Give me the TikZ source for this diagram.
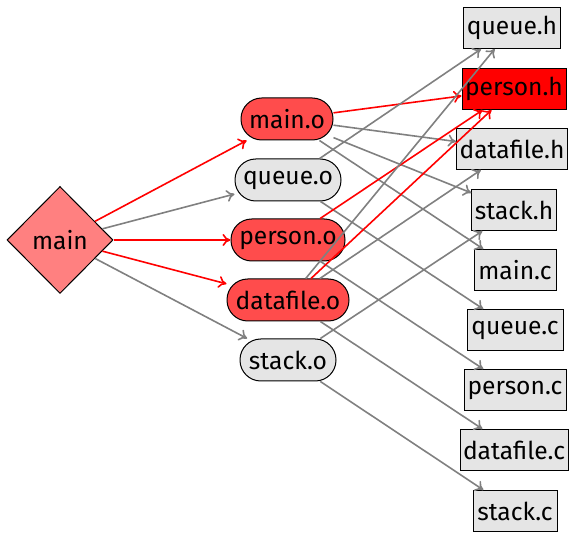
\documentclass[tikz,border=0pt]{standalone}
\usepackage{fontspec}
\setmainfont{Fira Sans}
\usetikzlibrary{shapes.geometric,arrows.meta}
\begin{document}
\begin{tikzpicture}[x=0.5pt,y=-0.5pt,
  every node/.style={font=\fontsize{12.3}{15}\selectfont, draw=black, line width=0.5pt, inner sep=1.5pt},
  wd/.style={minimum width={#1*0.5pt}},
  target/.style={diamond, fill=red!50, minimum width=53pt, minimum height=53.5pt},
  objfile/.style={rectangle, rounded corners=10.4pt, minimum height=21pt, fill=gray!20},
  hotobj/.style={objfile, fill=red!70},
  srcfile/.style={rectangle, minimum height=20.5pt, fill=gray!20},
  hotsrc/.style={srcfile, fill=red},
  dep/.style={draw=gray, line width=0.8pt, -{To[length=4pt,width=6pt]}},
  hotdep/.style={dep, draw=red},
]
\useasboundingbox (0,0) rectangle (569,533);

% final target
\node[target] (main) at (60,240) {main};

% object files
\node[hotobj, wd=92]  (maino) at (287,119) {main.o};
\node[objfile, wd=106] (queueo) at (288,180) {queue.o};
\node[hotobj, wd=114] (persono) at (288,240) {person.o};
\node[hotobj, wd=122] (datafileo) at (288,300) {datafile.o};
\node[objfile, wd=96] (stacko) at (288,360) {stack.o};

% headers and sources
\node[srcfile, wd=92]  (queueh) at (512,28) {queue.h};
\node[hotsrc, wd=104]  (personh) at (514,89) {person.h};
\node[srcfile, wd=109] (datafileh) at (512,149) {datafile.h};
\node[srcfile, wd=84]  (stackh) at (514,210) {stack.h};
\node[srcfile, wd=82]  (mainc) at (515,270) {main.c};
\node[srcfile, wd=96]  (queuec) at (515,330) {queue.c};
\node[srcfile, wd=102] (personc) at (515,390) {person.c};
\node[srcfile, wd=108] (datafilec) at (514,450) {datafile.c};
\node[srcfile, wd=84]  (stackc) at (515,511) {stack.c};

% link step
\draw[hotdep] (main) -- (maino);
\draw[dep]    (main) -- (queueo);
\draw[hotdep] (main) -- (persono);
\draw[hotdep] (main) -- (datafileo);
\draw[dep]    (main) -- (stacko);

% compile step
\draw[hotdep] (maino) -- (personh);
\draw[dep]    (maino) -- (datafileh);
\draw[dep]    (maino) -- (stackh);
\draw[dep]    (maino) -- (mainc);

\draw[dep]    (queueo) -- (queueh);
\draw[dep]    (queueo) -- (queuec);

\draw[hotdep] (persono) -- (personh);
\draw[dep]    (persono) -- (personc);

\draw[dep]    (datafileo) -- (queueh);
\draw[hotdep] (datafileo) -- (personh);
\draw[dep]    (datafileo) -- (datafileh);
\draw[dep]    (datafileo) -- (datafilec);

\draw[dep]    (stacko) -- (stackh);
\draw[dep]    (stacko) -- (stackc);
\end{tikzpicture}
\end{document}
